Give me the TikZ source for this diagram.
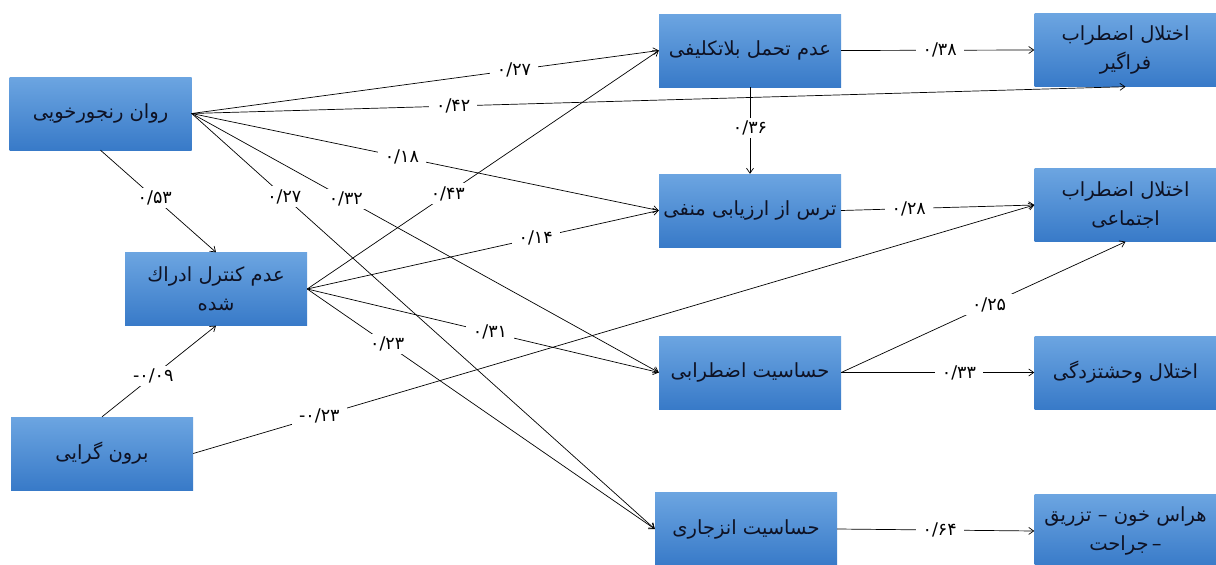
\documentclass[tikz,border=0pt]{standalone}
\usepackage{fontspec}
\newfontfamily\arabicfont[Script=Arabic]{DejaVu Sans}
\TeXXeTstate=1
\usetikzlibrary{arrows.meta}
\definecolor{boxtop}{RGB}{108,165,225}
\definecolor{boxbot}{RGB}{56,122,200}
\definecolor{boxtext}{RGB}{14,18,36}
\tikzset{
  var/.style={rectangle, minimum width=182pt, minimum height=73pt,
    top color=boxtop, bottom color=boxbot, draw=none,
    font=\arabicfont\fontsize{19.5}{29}\selectfont, align=center,
    text=boxtext, inner sep=0pt},
  conn/.style={draw, line width=0.7pt, -{Straight Barb[length=5pt,width=7pt]}},
  coef/.style={fill=white, font=\arabicfont\fontsize{17.5}{17.5}\selectfont,
    inner xsep=7pt, inner ysep=3pt, text=black}
}
\begin{document}
\begin{tikzpicture}[x=1pt,y=-1pt]
\useasboundingbox (0,0) rectangle (1216,565);
\fill[white] (0,0) rectangle (1216,565);
% boxes
\node[var] (A) at (100.5,113.5) {\beginR روان رنجورخویی\endR};
\node[var] (B) at (216,289) {\beginR عدم کنترل ادراك\endR\\\beginR شده\endR};
\node[var] (C) at (102,453.5) {\beginR برون گرایی\endR};
\node[var] (D) at (750,50.5) {\beginR عدم تحمل بلاتکلیفی\endR};
\node[var] (E) at (750,210.5) {\beginR ترس از ارزیابی منفی\endR};
\node[var] (F) at (750,372.5) {\beginR حساسیت اضطرابی\endR};
\node[var] (G) at (746,529) {\beginR حساسیت انزجاری\endR};
\node[var] (H) at (1125.5,50) {\beginR اختلال اضطراب\endR\\\beginR فراگیر\endR};
\node[var] (I) at (1125.5,205) {\beginR اختلال اضطراب\endR\\\beginR اجتماعی\endR};
\node[var] (J) at (1125.5,372.5) {\beginR اختلال وحشتزدگی\endR};
\node[var] (K) at (1125.5,531) {\beginR هراس خون – تزریق\endR\\\hbox{\beginR جراحت\endR}\,\hbox{–}};
% connectors
\draw[conn] (A.east) -- (D.west);
\draw[conn] (A.east) -- (H.south);
\draw[conn] (A.east) -- (E.west);
\draw[conn] (A.east) -- (F.west);
\draw[conn] (A.east) -- (G.west);
\draw[conn] (A.south) -- (B.north);
\draw[conn] (B.east) -- (D.west);
\draw[conn] (B.east) -- (E.west);
\draw[conn] (B.east) -- (F.west);
\draw[conn] (B.east) -- (G.west);
\draw[conn] (C.north) -- (B.south);
\draw[conn] (C.east) -- (I.west);
\draw[conn] (D.east) -- (H.west);
\draw[conn] (D.south) -- (E.north);
\draw[conn] (E.east) -- (I.west);
\draw[conn] (F.east) -- (I.south);
\draw[conn] (F.east) -- (J.west);
\draw[conn] (G.east) -- (K.west);
% coefficients
\path (A.east) -- (D.west) node[coef,pos=0.69] {۰/۲۷};
\path (A.east) -- (H.south) node[coef,pos=0.28] {۰/۴۲};
\path (A.east) -- (E.west) node[coef,pos=0.45] {۰/۱۸};
\path (A.east) -- (F.west) node[coef,pos=0.33] {۰/۳۲};
\path (A.east) -- (G.west) node[coef,pos=0.20] {۰/۲۷};
\path (A.south) -- (B.north) node[coef,pos=0.47] {۰/۵۳};
\path (B.east) -- (D.west) node[coef,pos=0.40] {۰/۴۳};
\path (B.east) -- (E.west) node[coef,pos=0.65] {۰/۱۴};
\path (B.east) -- (F.west) node[coef,pos=0.52] {۰/۳۱};
\path (B.east) -- (G.west) node[coef,pos=0.23] {۰/۲۳};
\path (C.north) -- (B.south) node[coef,pos=0.45] {\hbox{-}\hbox{۰/۰۹}};
\path (C.east) -- (I.west) node[coef,pos=0.15] {\hbox{-}\hbox{۰/۲۳}};
\path (D.east) -- (H.west) node[coef,pos=0.51] {۰/۳۸};
\path (D.south) -- (E.north) node[coef,pos=0.47] {۰/۳۶};
\path (E.east) -- (I.west) node[coef,pos=0.35] {۰/۲۸};
\path (F.east) -- (I.south) node[coef,pos=0.52] {۰/۲۵};
\path (F.east) -- (J.west) node[coef,pos=0.61] {۰/۳۳};
\path (G.east) -- (K.west) node[coef,pos=0.52] {۰/۶۴};
\end{tikzpicture}
\end{document}
